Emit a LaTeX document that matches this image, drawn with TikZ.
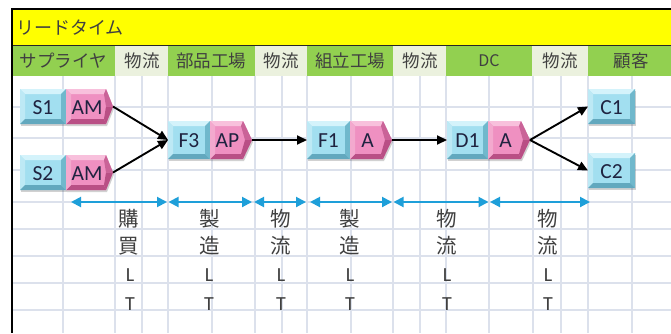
\documentclass[tikz,border=0pt]{standalone}
\usepackage{fontspec}
\setmainfont{Carlito}
\newfontfamily\jp{Noto Sans CJK JP}
\usetikzlibrary{arrows.meta}
\definecolor{ttl}{HTML}{FFFF00}
\definecolor{hgreen}{HTML}{92D050}
\definecolor{hlight}{HTML}{EBF1DE}
\definecolor{gridc}{HTML}{DCE1EC}
\definecolor{cyBase}{HTML}{A2DFF0}
\definecolor{cyTop}{HTML}{D4F3FB}
\definecolor{cyLeft}{HTML}{BDE9F5}
\definecolor{cyRight}{HTML}{70B8CC}
\definecolor{cyBot}{HTML}{62A8BE}
\definecolor{pkBase}{HTML}{EF90C1}
\definecolor{pkTop}{HTML}{F8C0DC}
\definecolor{pkLeft}{HTML}{F3A9CE}
\definecolor{pkRight}{HTML}{CA6398}
\definecolor{pkBot}{HTML}{B94F85}
\definecolor{blu}{HTML}{1E9FD9}
\definecolor{txt}{HTML}{404040}
\definecolor{boxtxt}{HTML}{1F2340}
\tikzset{
  gridline/.style={draw=gridc, line width=1.4pt},
  hdr/.style={font=\jp\fontsize{17.5}{17.5}\selectfont, text=txt, inner sep=0pt},
  boxlbl/.style={font=\fontsize{21.5}{21.5}\selectfont, text=boxtxt, inner sep=0pt},
  blk/.style={draw=black, line width=1.9pt, -{Triangle[length=10pt,width=9pt]}},
  blu2/.style={draw=blu, line width=2pt, {Triangle[length=10pt,width=10pt]}-{Triangle[length=10pt,width=10pt]}},
  vlbl/.style={font=\jp\fontsize{20.5}{27}\selectfont, text=txt, align=center, inner sep=0pt},
  lt/.style={font=\fontsize{20}{20}\selectfont, text=txt, inner sep=0pt},
}
% bevelled rectangle: name, x1, y1, x2, y2, label
\newcommand\bvrect[6]{%
  \fill[black, opacity=0.18] ({#2+1},{#3+2}) rectangle ({#4+1},{#5+2});
  \fill[cyBase] (#2,#3) rectangle (#4,#5);
  \fill[cyTop] (#2,#3) -- (#4,#3) -- ({#4-5},{#3+5}) -- ({#2+5},{#3+5}) -- cycle;
  \fill[cyLeft] (#2,#3) -- ({#2+5},{#3+5}) -- ({#2+5},{#5-5}) -- (#2,#5) -- cycle;
  \fill[cyRight] (#4,#3) -- (#4,#5) -- ({#4-5},{#5-5}) -- ({#4-5},{#3+5}) -- cycle;
  \fill[cyBot] (#2,#5) -- (#4,#5) -- ({#4-5},{#5-5}) -- ({#2+5},{#5-5}) -- cycle;
  \node[boxlbl] (#1) at ({(#2+#4)/2},{(#3+#5)/2+1}) {#6};
  \coordinate (#1-w) at (#2,{(#3+#5)/2});
}
% bevelled pentagon: name, x1, y1, xb, xtip, y2, label
\newcommand\bvpent[7]{%
  \fill[black, opacity=0.18] ({#2+1},{#3+2}) -- ({#4+1},{#3+2}) -- ({#5+1},{(#3+#6)/2+2}) -- ({#4+1},{#6+2}) -- ({#2+1},{#6+2}) -- cycle;
  \fill[pkBase] (#2,#3) -- (#4,#3) -- (#5,{(#3+#6)/2}) -- (#4,#6) -- (#2,#6) -- cycle;
  \fill[pkTop] (#2,#3) -- (#4,#3) -- ({#4-2},{#3+5}) -- ({#2+5},{#3+5}) -- cycle;
  \fill[pkRight] (#4,#3) -- (#5,{(#3+#6)/2}) -- ({#5-7},{(#3+#6)/2}) -- ({#4-2},{#3+5}) -- cycle;
  \fill[pkBot] (#5,{(#3+#6)/2}) -- (#4,#6) -- ({#4-2},{#6-5}) -- ({#5-7},{(#3+#6)/2}) -- cycle;
  \fill[pkBot] (#2,#6) -- (#4,#6) -- ({#4-2},{#6-5}) -- ({#2+5},{#6-5}) -- cycle;
  \fill[pkLeft] (#2,#3) -- ({#2+5},{#3+5}) -- ({#2+5},{#6-5}) -- (#2,#6) -- cycle;
  \node[boxlbl] (#1) at ({(#2+#4)/2+1},{(#3+#6)/2+1}) {#7};
  \coordinate (#1-tip) at (#5,{(#3+#6)/2});
}
\begin{document}
\begin{tikzpicture}[x=1pt,y=-1pt]
\useasboundingbox (0,0) rectangle (671,333);
\fill[white] (0,0) rectangle (671,333);
% grid
\foreach \x in {63,115,142,168,212,255,282,307,351,393,420,446,489,533,561,588,632}
  \draw[gridline] (\x,76) -- (\x,333);
\foreach \y in {107,138,170,202,229,256,283,310}
  \draw[gridline] (12,\y) -- (671,\y);
% title row
\fill[ttl] (12,10) rectangle (671,45);
\draw[black, line width=2pt] (11,9) -- (671,9);
\draw[black!85, line width=1pt] (12,45.5) -- (671,45.5);
\draw[black, line width=2pt] (12,9) -- (12,333);
\node[font=\jp\fontsize{18}{18}\selectfont, text=txt, anchor=west, inner sep=0pt] (title) at (16,28) {リードタイム};
% header row
\fill[hgreen] (13,46) rectangle (115,76);
\fill[hlight] (115,46) rectangle (168,76);
\fill[hgreen] (168,46) rectangle (255,76);
\fill[hlight] (255,46) rectangle (307,76);
\fill[hgreen] (307,46) rectangle (393,76);
\fill[hlight] (393,46) rectangle (446,76);
\fill[hgreen] (446,46) rectangle (532,76);
\fill[hlight] (532,46) rectangle (588,76);
\fill[hgreen] (588,46) rectangle (671,76);
\node[hdr] (h1) at (63,61) {サプライヤ};
\node[hdr] (h2) at (142,61) {物流};
\node[hdr] (h3) at (211,61) {部品工場};
\node[hdr] (h4) at (281,61) {物流};
\node[hdr] (h5) at (350,61) {組立工場};
\node[hdr] (h6) at (420,61) {物流};
\node[hdr, font=\jp\fontsize{16}{16}\selectfont] (h7) at (489,61) {DC};
\node[hdr] (h8) at (560,61) {物流};
\node[hdr] (h9) at (631,61) {顧客};
% boxes
\bvrect{S1}{20}{89}{66}{124}{S1}
\bvpent{AM1}{66}{89}{106}{113}{124}{AM}
\bvrect{S2}{20}{155}{66}{190}{S2}
\bvpent{AM2}{66}{155}{106}{113}{190}{AM}
\bvrect{F3}{168}{121}{210}{159}{F3}
\bvpent{AP}{210}{121}{243}{252}{159}{AP}
\bvrect{F1}{307}{121}{350}{159}{F1}
\bvpent{A1}{350}{121}{383}{392}{159}{A}
\bvrect{D1}{447}{121}{488}{159}{D1}
\bvpent{A2}{488}{121}{521}{530}{159}{A}
\bvrect{C1}{588}{89}{635}{124}{C1}
\bvrect{C2}{588}{153}{635}{188}{C2}
% connectors
\draw[blk] (AM1-tip) -- (F3-w);
\draw[blk] (AM2-tip) -- (F3-w);
\draw[blk] (AP-tip) -- (F1-w);
\draw[blk] (A1-tip) -- (D1-w);
\draw[blk] (A2-tip) -- (C1-w);
\draw[blk] (A2-tip) -- (C2-w);
% lead time spans
\coordinate (b0) at (71,202);
\coordinate (b1) at (167,202);
\coordinate (b1r) at (168.5,202);
\coordinate (b2) at (252,202);
\coordinate (b2r) at (254,202);
\coordinate (b3) at (306,202);
\coordinate (b3r) at (310,202);
\coordinate (b4) at (392,202);
\coordinate (b4r) at (393.5,202);
\coordinate (b5) at (488.5,202);
\coordinate (b5r) at (490,202);
\coordinate (b6) at (590,202);
\draw[blu2] (b0) -- (b1);
\draw[blu2] (b1r) -- (b2);
\draw[blu2] (b2r) -- (b3);
\draw[blu2] (b3r) -- (b4);
\draw[blu2] (b4r) -- (b5);
\draw[blu2] (b5r) -- (b6);
% labels
\node[vlbl] (k1) at (129,232) {購\\買};
\node[vlbl] (k2) at (210,232) {製\\造};
\node[vlbl] (k3) at (281,232) {物\\流};
\node[vlbl] (k4) at (350,232) {製\\造};
\node[vlbl] (k5) at (447,232) {物\\流};
\node[vlbl] (k6) at (548,232) {物\\流};
\foreach \n/\x in {1/130,2/209,3/281,4/350,5/447,6/548}{
  \node[lt] (l\n) at (\x,275) {L};
  \node[lt] (t\n) at (\x,304) {T};
}
\end{tikzpicture}
\end{document}
